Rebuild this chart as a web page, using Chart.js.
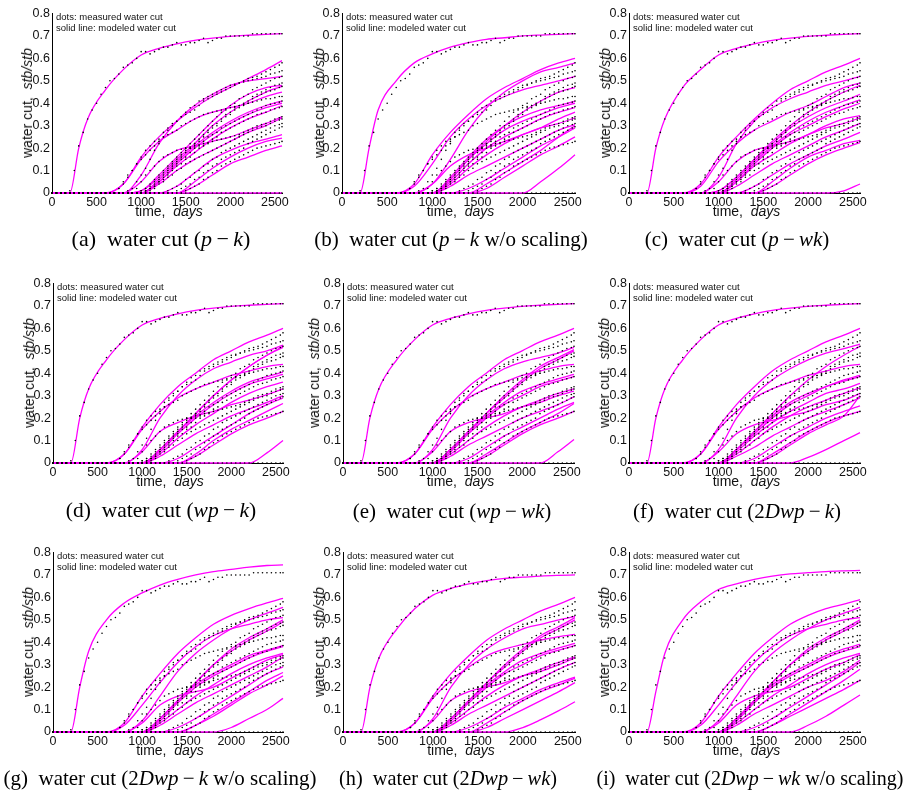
<!DOCTYPE html>
<html>
<head>
<meta charset="utf-8">
<script src="https://cdn.jsdelivr.net/npm/chart.js@4.4.0/dist/chart.umd.min.js"></script>
<style>
  body { margin: 0; background: #fff; width: 909px; height: 790px; position: relative; overflow: hidden;
         font-family: "Liberation Sans", Arial, sans-serif; color: #111; }
  canvas { position: absolute; }
  .ytitle { position: absolute; transform: translate(-50%, -50%) rotate(-90deg); white-space: nowrap; font-size: 14px; line-height: 1; }
  .xtitle { position: absolute; transform: translate(-50%, -50%); white-space: nowrap; font-size: 14px; line-height: 1; }
  .note { position: absolute; font-size: 9.5px; line-height: 11px; white-space: nowrap; }
  .caption { position: absolute; transform: translate(-50%, -50%); white-space: nowrap; line-height: 1;
             font-family: "Liberation Serif", "Times New Roman", serif; color: #000; }
</style>
</head>
<body>
<script>
// axis ticks
const X_TICKS = [0, 500, 1000, 1500, 2000, 2500];
const X_TICK_LABELS = ["0", "500", "1000", "1500", "2000", "2500"];
const Y_TICKS = [0, 0.1, 0.2, 0.3, 0.4, 0.5, 0.6, 0.7, 0.8];
const Y_TICK_LABELS = ["0", "0.1", "0.2", "0.3", "0.4", "0.5", "0.6", "0.7", "0.8"];

// measured water cut (dots), same in every panel; one row per 500 days
const OBS_DAYS = [
  0, 50, 100, 150, 200, 250, 300, 350, 400, 450,
  500, 550, 600, 650, 700, 750, 800, 850, 900, 950,
  1000, 1050, 1100, 1150, 1200, 1250, 1300, 1350, 1400, 1450,
  1500, 1550, 1600, 1650, 1700, 1750, 1800, 1850, 1900, 1950,
  2000, 2050, 2100, 2150, 2200, 2250, 2300, 2350, 2400, 2450,
  2500, 2550, 2580];
const OBS_01 = [
  0, 0, 0, 0, 0.01, 0.10, 0.21, 0.27, 0.33, 0.37,
  0.40, 0.44, 0.47, 0.50, 0.51, 0.53, 0.56, 0.57, 0.58, 0.60,
  0.63, 0.63, 0.62, 0.63, 0.64, 0.65, 0.65, 0.66, 0.67, 0.66,
  0.66, 0.67, 0.67, 0.68, 0.69, 0.67, 0.68, 0.69, 0.69, 0.70,
  0.70, 0.70, 0.70, 0.70, 0.70, 0.71, 0.71, 0.71, 0.71, 0.71,
  0.71, 0.71, 0.71];
const OBS_02 = [
  0, 0, 0, 0, 0, 0, 0, 0, 0, 0,
  0, 0, 0, 0, 0, 0.02, 0.04, 0.07, 0.10, 0.13,
  0.16, 0.19, 0.21, 0.23, 0.24, 0.27, 0.29, 0.31, 0.32, 0.34,
  0.35, 0.36, 0.37, 0.39, 0.41, 0.42, 0.43, 0.44, 0.45, 0.46,
  0.47, 0.48, 0.49, 0.50, 0.51, 0.515, 0.52, 0.53, 0.54, 0.55,
  0.56, 0.57, 0.58];
const OBS_03 = [
  0, 0, 0, 0, 0, 0, 0, 0, 0, 0,
  0, 0, 0, 0, 0, 0.02, 0.05, 0.08, 0.10, 0.13,
  0.15, 0.17, 0.19, 0.21, 0.23, 0.25, 0.26, 0.27, 0.28, 0.30,
  0.31, 0.32, 0.33, 0.34, 0.35, 0.355, 0.36, 0.365, 0.37, 0.375,
  0.38, 0.385, 0.39, 0.395, 0.40, 0.405, 0.41, 0.415, 0.42, 0.42,
  0.425, 0.43, 0.43];
const OBS_04 = [
  0, 0, 0, 0, 0, 0, 0, 0, 0, 0,
  0, 0, 0, 0, 0, 0, 0, 0.01, 0.02, 0.05,
  0.08, 0.11, 0.15, 0.19, 0.22, 0.25, 0.28, 0.30, 0.32, 0.34,
  0.36, 0.38, 0.39, 0.41, 0.42, 0.43, 0.44, 0.45, 0.46, 0.47,
  0.48, 0.485, 0.49, 0.495, 0.50, 0.505, 0.51, 0.515, 0.52, 0.53,
  0.535, 0.54, 0.545];
const OBS_05 = [
  0, 0, 0, 0, 0, 0, 0, 0, 0, 0,
  0, 0, 0, 0, 0, 0, 0, 0, 0, 0,
  0.01, 0.02, 0.04, 0.06, 0.08, 0.10, 0.12, 0.14, 0.16, 0.18,
  0.20, 0.22, 0.24, 0.26, 0.28, 0.30, 0.32, 0.34, 0.36, 0.37,
  0.39, 0.40, 0.42, 0.43, 0.44, 0.46, 0.47, 0.48, 0.49, 0.50,
  0.51, 0.515, 0.52];
const OBS_06 = [
  0, 0, 0, 0, 0, 0, 0, 0, 0, 0,
  0, 0, 0, 0, 0, 0, 0, 0, 0, 0,
  0.01, 0.02, 0.03, 0.05, 0.07, 0.09, 0.11, 0.13, 0.15, 0.17,
  0.19, 0.20, 0.22, 0.24, 0.26, 0.28, 0.30, 0.31, 0.33, 0.35,
  0.36, 0.38, 0.39, 0.40, 0.41, 0.43, 0.44, 0.45, 0.46, 0.47,
  0.48, 0.485, 0.49];
const OBS_07 = [
  0, 0, 0, 0, 0, 0, 0, 0, 0, 0,
  0, 0, 0, 0, 0, 0, 0, 0, 0, 0,
  0, 0.01, 0.02, 0.04, 0.06, 0.08, 0.10, 0.12, 0.14, 0.16,
  0.18, 0.20, 0.22, 0.23, 0.25, 0.27, 0.29, 0.30, 0.32, 0.34,
  0.35, 0.37, 0.38, 0.39, 0.40, 0.42, 0.43, 0.44, 0.45, 0.455,
  0.46, 0.47, 0.475];
const OBS_08 = [
  0, 0, 0, 0, 0, 0, 0, 0, 0, 0,
  0, 0, 0, 0, 0, 0, 0, 0, 0, 0,
  0, 0.01, 0.02, 0.03, 0.05, 0.07, 0.09, 0.11, 0.13, 0.15,
  0.16, 0.18, 0.20, 0.21, 0.23, 0.25, 0.26, 0.27, 0.29, 0.30,
  0.31, 0.32, 0.33, 0.34, 0.35, 0.36, 0.37, 0.38, 0.39, 0.395,
  0.40, 0.405, 0.41];
const OBS_09 = [
  0, 0, 0, 0, 0, 0, 0, 0, 0, 0,
  0, 0, 0, 0, 0, 0, 0, 0, 0, 0,
  0, 0.01, 0.02, 0.03, 0.05, 0.06, 0.08, 0.10, 0.12, 0.13,
  0.15, 0.16, 0.18, 0.20, 0.21, 0.22, 0.24, 0.25, 0.27, 0.28,
  0.29, 0.30, 0.31, 0.32, 0.33, 0.34, 0.35, 0.355, 0.36, 0.37,
  0.375, 0.38, 0.385];
const OBS_10 = [
  0, 0, 0, 0, 0, 0, 0, 0, 0, 0,
  0, 0, 0, 0, 0, 0, 0, 0, 0, 0.02,
  0.05, 0.08, 0.10, 0.12, 0.14, 0.16, 0.17, 0.18, 0.19, 0.195,
  0.20, 0.205, 0.21, 0.215, 0.22, 0.225, 0.23, 0.235, 0.24, 0.245,
  0.25, 0.255, 0.26, 0.27, 0.28, 0.29, 0.30, 0.305, 0.31, 0.32,
  0.33, 0.335, 0.34];
const OBS_11 = [
  0, 0, 0, 0, 0, 0, 0, 0, 0, 0,
  0, 0, 0, 0, 0, 0, 0, 0, 0, 0,
  0, 0, 0.01, 0.02, 0.04, 0.05, 0.07, 0.08, 0.10, 0.11,
  0.13, 0.14, 0.15, 0.16, 0.17, 0.18, 0.19, 0.20, 0.21, 0.22,
  0.23, 0.24, 0.25, 0.26, 0.27, 0.28, 0.29, 0.295, 0.30, 0.31,
  0.32, 0.325, 0.33];
const OBS_12 = [
  0, 0, 0, 0, 0, 0, 0, 0, 0, 0,
  0, 0, 0, 0, 0, 0, 0, 0, 0, 0,
  0, 0, 0, 0, 0, 0, 0.01, 0.02, 0.03, 0.04,
  0.06, 0.07, 0.09, 0.10, 0.12, 0.13, 0.15, 0.16, 0.18, 0.19,
  0.20, 0.21, 0.22, 0.23, 0.24, 0.25, 0.26, 0.27, 0.28, 0.29,
  0.30, 0.305, 0.31];
const OBS_13 = [
  0, 0, 0, 0, 0, 0, 0, 0, 0, 0,
  0, 0, 0, 0, 0, 0, 0, 0, 0, 0,
  0, 0, 0, 0, 0, 0, 0, 0, 0.01, 0.02,
  0.03, 0.04, 0.06, 0.07, 0.09, 0.10, 0.12, 0.13, 0.15, 0.16,
  0.17, 0.18, 0.19, 0.20, 0.22, 0.23, 0.24, 0.25, 0.26, 0.27,
  0.28, 0.29, 0.295];
const OBS_14 = [
  0, 0, 0, 0, 0, 0, 0, 0, 0, 0,
  0, 0, 0, 0, 0, 0, 0, 0, 0, 0,
  0, 0, 0, 0, 0, 0, 0, 0, 0, 0,
  0.01, 0.02, 0.03, 0.04, 0.06, 0.07, 0.09, 0.10, 0.12, 0.13,
  0.14, 0.15, 0.16, 0.17, 0.18, 0.19, 0.20, 0.205, 0.21, 0.215,
  0.22, 0.225, 0.23];
const OBS_15 = [
  0, 0, 0, 0, 0, 0, 0, 0, 0, 0,
  0, 0, 0, 0, 0, 0, 0, 0, 0, 0,
  0, 0, 0, 0, 0, 0, 0, 0, 0, 0,
  0, 0, 0, 0, 0, 0, 0, 0, 0, 0,
  0, 0, 0, 0, 0, 0, 0, 0, 0, 0,
  0, 0, 0];
const OBSERVED = [OBS_01, OBS_02, OBS_03, OBS_04, OBS_05, OBS_06, OBS_07, OBS_08, OBS_09, OBS_10, OBS_11, OBS_12, OBS_13, OBS_14, OBS_15];

// modeled water cut (lines), one row per well, per panel
const FIT_DAYS = [0, 200, 300, 400, 600, 800, 1000, 1200, 1400, 1600, 1800, 2000, 2200, 2400, 2580];

const FIT_A = [
  [0, 0, 0.20, 0.33, 0.46, 0.55, 0.615, 0.645, 0.665, 0.68, 0.69, 0.698, 0.703, 0.707, 0.71],
  [0, 0, 0, 0, 0, 0.04, 0.16, 0.25, 0.32, 0.38, 0.43, 0.47, 0.51, 0.55, 0.59],
  [0, 0, 0, 0, 0, 0.04, 0.15, 0.23, 0.28, 0.33, 0.36, 0.38, 0.40, 0.43, 0.45],
  [0, 0, 0, 0, 0, 0, 0.08, 0.22, 0.32, 0.39, 0.44, 0.48, 0.50, 0.51, 0.52],
  [0, 0, 0, 0, 0, 0, 0.01, 0.08, 0.16, 0.24, 0.32, 0.39, 0.44, 0.47, 0.48],
  [0, 0, 0, 0, 0, 0, 0.01, 0.07, 0.15, 0.22, 0.30, 0.36, 0.41, 0.45, 0.475],
  [0, 0, 0, 0, 0, 0, 0, 0.06, 0.14, 0.21, 0.27, 0.32, 0.36, 0.39, 0.41],
  [0, 0, 0, 0, 0, 0, 0, 0.05, 0.13, 0.20, 0.26, 0.31, 0.35, 0.38, 0.40],
  [0, 0, 0, 0, 0, 0, 0, 0.05, 0.12, 0.18, 0.24, 0.29, 0.33, 0.36, 0.39],
  [0, 0, 0, 0, 0, 0, 0.05, 0.14, 0.19, 0.21, 0.23, 0.25, 0.28, 0.31, 0.34],
  [0, 0, 0, 0, 0, 0, 0, 0.04, 0.10, 0.15, 0.19, 0.23, 0.27, 0.30, 0.335],
  [0, 0, 0, 0, 0, 0, 0, 0, 0.03, 0.09, 0.15, 0.19, 0.22, 0.24, 0.26],
  [0, 0, 0, 0, 0, 0, 0, 0, 0, 0.05, 0.11, 0.16, 0.20, 0.23, 0.245],
  [0, 0, 0, 0, 0, 0, 0, 0, 0, 0.03, 0.08, 0.13, 0.16, 0.19, 0.21],
  [0, 0, 0, 0, 0, 0, 0, 0, 0, 0, 0, 0, 0, 0, 0]
];
const FIT_B = [
  [0, 0, 0.20, 0.37, 0.50, 0.58, 0.62, 0.65, 0.67, 0.685, 0.692, 0.70, 0.704, 0.707, 0.71],
  [0, 0, 0, 0, 0, 0.04, 0.17, 0.27, 0.35, 0.42, 0.47, 0.51, 0.55, 0.58, 0.60],
  [0, 0, 0, 0, 0, 0.03, 0.13, 0.25, 0.33, 0.39, 0.43, 0.46, 0.48, 0.50, 0.52],
  [0, 0, 0, 0, 0, 0, 0.04, 0.15, 0.28, 0.38, 0.45, 0.50, 0.54, 0.56, 0.58],
  [0, 0, 0, 0, 0, 0, 0, 0.06, 0.15, 0.23, 0.30, 0.36, 0.41, 0.45, 0.47],
  [0, 0, 0, 0, 0, 0, 0, 0.07, 0.16, 0.24, 0.30, 0.34, 0.37, 0.39, 0.41],
  [0, 0, 0, 0, 0, 0, 0, 0.06, 0.15, 0.22, 0.28, 0.32, 0.35, 0.38, 0.40],
  [0, 0, 0, 0, 0, 0, 0, 0.05, 0.13, 0.20, 0.25, 0.29, 0.33, 0.36, 0.38],
  [0, 0, 0, 0, 0, 0, 0, 0.04, 0.11, 0.17, 0.22, 0.26, 0.29, 0.33, 0.36],
  [0, 0, 0, 0, 0, 0, 0.04, 0.12, 0.17, 0.20, 0.23, 0.26, 0.29, 0.31, 0.335],
  [0, 0, 0, 0, 0, 0, 0, 0.03, 0.08, 0.12, 0.16, 0.20, 0.24, 0.28, 0.305],
  [0, 0, 0, 0, 0, 0, 0, 0, 0.02, 0.06, 0.11, 0.16, 0.21, 0.25, 0.29],
  [0, 0, 0, 0, 0, 0, 0, 0, 0, 0.02, 0.07, 0.12, 0.17, 0.21, 0.25],
  [0, 0, 0, 0, 0, 0, 0, 0, 0, 0.04, 0.09, 0.14, 0.19, 0.25, 0.30],
  [0, 0, 0, 0, 0, 0, 0, 0, 0, 0, 0, 0, 0.05, 0.11, 0.17]
];
const FIT_C = [
  [0, 0, 0.20, 0.33, 0.47, 0.55, 0.615, 0.645, 0.665, 0.68, 0.69, 0.698, 0.703, 0.707, 0.71],
  [0, 0, 0, 0, 0, 0.04, 0.16, 0.25, 0.33, 0.40, 0.46, 0.50, 0.54, 0.57, 0.60],
  [0, 0, 0, 0, 0, 0.03, 0.14, 0.22, 0.28, 0.32, 0.36, 0.39, 0.43, 0.47, 0.49],
  [0, 0, 0, 0, 0, 0, 0.07, 0.22, 0.32, 0.38, 0.42, 0.45, 0.48, 0.50, 0.52],
  [0, 0, 0, 0, 0, 0, 0.01, 0.07, 0.15, 0.23, 0.30, 0.36, 0.41, 0.45, 0.48],
  [0, 0, 0, 0, 0, 0, 0.01, 0.07, 0.15, 0.22, 0.29, 0.34, 0.38, 0.41, 0.44],
  [0, 0, 0, 0, 0, 0, 0, 0.06, 0.14, 0.21, 0.27, 0.32, 0.36, 0.39, 0.415],
  [0, 0, 0, 0, 0, 0, 0, 0.05, 0.13, 0.20, 0.26, 0.30, 0.34, 0.375, 0.40],
  [0, 0, 0, 0, 0, 0, 0, 0.05, 0.12, 0.17, 0.22, 0.26, 0.30, 0.33, 0.345],
  [0, 0, 0, 0, 0, 0, 0.05, 0.14, 0.19, 0.21, 0.23, 0.26, 0.29, 0.31, 0.335],
  [0, 0, 0, 0, 0, 0, 0, 0.03, 0.08, 0.13, 0.17, 0.21, 0.25, 0.28, 0.31],
  [0, 0, 0, 0, 0, 0, 0, 0, 0.03, 0.08, 0.13, 0.17, 0.21, 0.24, 0.27],
  [0, 0, 0, 0, 0, 0, 0, 0, 0, 0.05, 0.11, 0.16, 0.19, 0.22, 0.235],
  [0, 0, 0, 0, 0, 0, 0, 0, 0, 0.03, 0.08, 0.13, 0.17, 0.20, 0.225],
  [0, 0, 0, 0, 0, 0, 0, 0, 0, 0, 0, 0, 0, 0.01, 0.04]
];
const FIT_D = [
  [0, 0, 0.20, 0.33, 0.46, 0.55, 0.615, 0.645, 0.665, 0.68, 0.69, 0.698, 0.703, 0.707, 0.71],
  [0, 0, 0, 0, 0, 0.04, 0.16, 0.26, 0.34, 0.40, 0.46, 0.50, 0.54, 0.57, 0.60],
  [0, 0, 0, 0, 0, 0.04, 0.15, 0.23, 0.29, 0.33, 0.36, 0.39, 0.41, 0.43, 0.44],
  [0, 0, 0, 0, 0, 0, 0.06, 0.20, 0.30, 0.37, 0.42, 0.45, 0.48, 0.50, 0.525],
  [0, 0, 0, 0, 0, 0, 0, 0.06, 0.14, 0.22, 0.30, 0.37, 0.43, 0.48, 0.52],
  [0, 0, 0, 0, 0, 0, 0, 0.06, 0.14, 0.22, 0.30, 0.37, 0.43, 0.48, 0.515],
  [0, 0, 0, 0, 0, 0, 0, 0.06, 0.14, 0.21, 0.27, 0.32, 0.36, 0.385, 0.405],
  [0, 0, 0, 0, 0, 0, 0, 0.05, 0.13, 0.20, 0.26, 0.31, 0.35, 0.375, 0.395],
  [0, 0, 0, 0, 0, 0, 0, 0.04, 0.11, 0.17, 0.22, 0.27, 0.31, 0.34, 0.36],
  [0, 0, 0, 0, 0, 0, 0.05, 0.14, 0.18, 0.21, 0.23, 0.26, 0.28, 0.305, 0.33],
  [0, 0, 0, 0, 0, 0, 0, 0.03, 0.08, 0.13, 0.17, 0.21, 0.24, 0.27, 0.30],
  [0, 0, 0, 0, 0, 0, 0, 0, 0.02, 0.07, 0.12, 0.17, 0.22, 0.26, 0.29],
  [0, 0, 0, 0, 0, 0, 0, 0, 0, 0.04, 0.10, 0.15, 0.19, 0.23, 0.265],
  [0, 0, 0, 0, 0, 0, 0, 0, 0, 0.03, 0.08, 0.13, 0.17, 0.20, 0.23],
  [0, 0, 0, 0, 0, 0, 0, 0, 0, 0, 0, 0, 0, 0.045, 0.10]
];
const FIT_E = [
  [0, 0, 0.20, 0.33, 0.46, 0.55, 0.615, 0.645, 0.665, 0.68, 0.69, 0.698, 0.703, 0.707, 0.71],
  [0, 0, 0, 0, 0, 0.04, 0.16, 0.26, 0.34, 0.40, 0.46, 0.50, 0.54, 0.57, 0.60],
  [0, 0, 0, 0, 0, 0.04, 0.15, 0.23, 0.29, 0.33, 0.36, 0.39, 0.41, 0.43, 0.44],
  [0, 0, 0, 0, 0, 0, 0.06, 0.20, 0.30, 0.37, 0.42, 0.45, 0.47, 0.49, 0.515],
  [0, 0, 0, 0, 0, 0, 0, 0.06, 0.14, 0.22, 0.30, 0.37, 0.43, 0.47, 0.505],
  [0, 0, 0, 0, 0, 0, 0, 0.06, 0.14, 0.22, 0.29, 0.36, 0.42, 0.46, 0.50],
  [0, 0, 0, 0, 0, 0, 0, 0.06, 0.14, 0.21, 0.27, 0.32, 0.35, 0.375, 0.395],
  [0, 0, 0, 0, 0, 0, 0, 0.05, 0.13, 0.20, 0.26, 0.30, 0.34, 0.365, 0.385],
  [0, 0, 0, 0, 0, 0, 0, 0.04, 0.10, 0.16, 0.21, 0.25, 0.28, 0.31, 0.33],
  [0, 0, 0, 0, 0, 0, 0.05, 0.14, 0.18, 0.20, 0.22, 0.25, 0.27, 0.30, 0.32],
  [0, 0, 0, 0, 0, 0, 0, 0.03, 0.08, 0.12, 0.16, 0.20, 0.23, 0.26, 0.295],
  [0, 0, 0, 0, 0, 0, 0, 0, 0.02, 0.07, 0.12, 0.16, 0.20, 0.24, 0.27],
  [0, 0, 0, 0, 0, 0, 0, 0, 0, 0.04, 0.09, 0.14, 0.18, 0.22, 0.265],
  [0, 0, 0, 0, 0, 0, 0, 0, 0, 0.03, 0.08, 0.13, 0.17, 0.20, 0.23],
  [0, 0, 0, 0, 0, 0, 0, 0, 0, 0, 0, 0, 0, 0.05, 0.105]
];
const FIT_F = [
  [0, 0, 0.20, 0.33, 0.46, 0.55, 0.615, 0.645, 0.665, 0.68, 0.69, 0.698, 0.703, 0.707, 0.71],
  [0, 0, 0, 0, 0, 0.04, 0.16, 0.26, 0.34, 0.41, 0.46, 0.50, 0.54, 0.57, 0.60],
  [0, 0, 0, 0, 0, 0.04, 0.15, 0.23, 0.29, 0.33, 0.36, 0.39, 0.41, 0.43, 0.44],
  [0, 0, 0, 0, 0, 0, 0.06, 0.20, 0.30, 0.37, 0.42, 0.46, 0.49, 0.51, 0.53],
  [0, 0, 0, 0, 0, 0, 0, 0.06, 0.14, 0.22, 0.30, 0.37, 0.43, 0.48, 0.52],
  [0, 0, 0, 0, 0, 0, 0, 0.06, 0.14, 0.21, 0.27, 0.31, 0.34, 0.37, 0.39],
  [0, 0, 0, 0, 0, 0, 0, 0.06, 0.13, 0.20, 0.26, 0.30, 0.34, 0.365, 0.385],
  [0, 0, 0, 0, 0, 0, 0, 0.05, 0.12, 0.18, 0.23, 0.27, 0.31, 0.33, 0.355],
  [0, 0, 0, 0, 0, 0, 0, 0.04, 0.10, 0.16, 0.21, 0.25, 0.28, 0.31, 0.335],
  [0, 0, 0, 0, 0, 0, 0.05, 0.13, 0.17, 0.19, 0.21, 0.23, 0.26, 0.28, 0.31],
  [0, 0, 0, 0, 0, 0, 0, 0.03, 0.07, 0.12, 0.16, 0.20, 0.23, 0.26, 0.29],
  [0, 0, 0, 0, 0, 0, 0, 0, 0.02, 0.07, 0.12, 0.16, 0.20, 0.23, 0.255],
  [0, 0, 0, 0, 0, 0, 0, 0, 0, 0.04, 0.09, 0.14, 0.18, 0.21, 0.23],
  [0, 0, 0, 0, 0, 0, 0, 0, 0, 0.03, 0.08, 0.13, 0.17, 0.21, 0.30],
  [0, 0, 0, 0, 0, 0, 0, 0, 0, 0, 0, 0.025, 0.06, 0.10, 0.135]
];
const FIT_G = [
  [0, 0, 0.20, 0.36, 0.50, 0.575, 0.62, 0.655, 0.68, 0.70, 0.715, 0.725, 0.735, 0.742, 0.745],
  [0, 0, 0, 0, 0, 0.04, 0.16, 0.26, 0.35, 0.42, 0.48, 0.52, 0.55, 0.575, 0.595],
  [0, 0, 0, 0, 0, 0.03, 0.12, 0.22, 0.31, 0.38, 0.43, 0.46, 0.48, 0.50, 0.51],
  [0, 0, 0, 0, 0, 0, 0.05, 0.16, 0.27, 0.35, 0.41, 0.46, 0.50, 0.53, 0.555],
  [0, 0, 0, 0, 0, 0, 0, 0.06, 0.14, 0.22, 0.30, 0.37, 0.42, 0.46, 0.50],
  [0, 0, 0, 0, 0, 0, 0, 0.06, 0.14, 0.22, 0.30, 0.36, 0.41, 0.45, 0.49],
  [0, 0, 0, 0, 0, 0, 0, 0.06, 0.14, 0.21, 0.26, 0.30, 0.34, 0.365, 0.385],
  [0, 0, 0, 0, 0, 0, 0, 0.05, 0.13, 0.20, 0.25, 0.29, 0.33, 0.36, 0.38],
  [0, 0, 0, 0, 0, 0, 0, 0.04, 0.10, 0.16, 0.21, 0.26, 0.30, 0.33, 0.35],
  [0, 0, 0, 0, 0, 0, 0.04, 0.12, 0.16, 0.18, 0.20, 0.24, 0.28, 0.32, 0.345],
  [0, 0, 0, 0, 0, 0, 0, 0.03, 0.08, 0.13, 0.17, 0.21, 0.25, 0.29, 0.335],
  [0, 0, 0, 0, 0, 0, 0, 0, 0.02, 0.06, 0.11, 0.16, 0.21, 0.26, 0.29],
  [0, 0, 0, 0, 0, 0, 0, 0, 0, 0.03, 0.08, 0.13, 0.18, 0.23, 0.265],
  [0, 0, 0, 0, 0, 0, 0, 0, 0, 0.03, 0.07, 0.12, 0.17, 0.21, 0.25],
  [0, 0, 0, 0, 0, 0, 0, 0, 0, 0, 0, 0.02, 0.06, 0.10, 0.15]
];
const FIT_H = [
  [0, 0, 0.20, 0.33, 0.46, 0.55, 0.61, 0.64, 0.66, 0.675, 0.685, 0.69, 0.695, 0.698, 0.70],
  [0, 0, 0, 0, 0, 0.04, 0.16, 0.26, 0.34, 0.41, 0.46, 0.50, 0.54, 0.57, 0.60],
  [0, 0, 0, 0, 0, 0.04, 0.15, 0.23, 0.29, 0.34, 0.37, 0.39, 0.41, 0.425, 0.435],
  [0, 0, 0, 0, 0, 0, 0.06, 0.20, 0.30, 0.37, 0.42, 0.46, 0.48, 0.50, 0.515],
  [0, 0, 0, 0, 0, 0, 0, 0.06, 0.14, 0.22, 0.30, 0.37, 0.43, 0.47, 0.51],
  [0, 0, 0, 0, 0, 0, 0, 0.06, 0.14, 0.22, 0.29, 0.36, 0.42, 0.46, 0.50],
  [0, 0, 0, 0, 0, 0, 0, 0.06, 0.14, 0.21, 0.27, 0.32, 0.35, 0.375, 0.395],
  [0, 0, 0, 0, 0, 0, 0, 0.05, 0.13, 0.20, 0.26, 0.30, 0.34, 0.365, 0.385],
  [0, 0, 0, 0, 0, 0, 0, 0.04, 0.10, 0.16, 0.21, 0.25, 0.28, 0.31, 0.335],
  [0, 0, 0, 0, 0, 0, 0.05, 0.14, 0.18, 0.20, 0.22, 0.25, 0.27, 0.30, 0.33],
  [0, 0, 0, 0, 0, 0, 0, 0.03, 0.08, 0.12, 0.16, 0.20, 0.24, 0.28, 0.31],
  [0, 0, 0, 0, 0, 0, 0, 0, 0.02, 0.06, 0.11, 0.15, 0.19, 0.22, 0.245],
  [0, 0, 0, 0, 0, 0, 0, 0, 0, 0.04, 0.09, 0.14, 0.18, 0.21, 0.24],
  [0, 0, 0, 0, 0, 0, 0, 0, 0, 0.02, 0.06, 0.10, 0.14, 0.18, 0.22],
  [0, 0, 0, 0, 0, 0, 0, 0, 0, 0, 0, 0.02, 0.055, 0.095, 0.135]
];
const FIT_I = [
  [0, 0, 0.18, 0.35, 0.50, 0.58, 0.635, 0.66, 0.68, 0.695, 0.705, 0.71, 0.715, 0.718, 0.72],
  [0, 0, 0, 0, 0, 0.04, 0.16, 0.26, 0.35, 0.42, 0.48, 0.52, 0.55, 0.57, 0.59],
  [0, 0, 0, 0, 0, 0.03, 0.12, 0.22, 0.31, 0.38, 0.43, 0.46, 0.48, 0.50, 0.51],
  [0, 0, 0, 0, 0, 0, 0.05, 0.16, 0.27, 0.35, 0.41, 0.46, 0.50, 0.53, 0.555],
  [0, 0, 0, 0, 0, 0, 0, 0.06, 0.14, 0.22, 0.30, 0.37, 0.42, 0.46, 0.50],
  [0, 0, 0, 0, 0, 0, 0, 0.06, 0.14, 0.22, 0.30, 0.36, 0.41, 0.45, 0.49],
  [0, 0, 0, 0, 0, 0, 0, 0.06, 0.14, 0.21, 0.26, 0.30, 0.34, 0.37, 0.39],
  [0, 0, 0, 0, 0, 0, 0, 0.05, 0.13, 0.20, 0.25, 0.29, 0.33, 0.36, 0.38],
  [0, 0, 0, 0, 0, 0, 0, 0.04, 0.10, 0.16, 0.21, 0.26, 0.30, 0.33, 0.35],
  [0, 0, 0, 0, 0, 0, 0.04, 0.12, 0.16, 0.18, 0.20, 0.24, 0.28, 0.31, 0.345],
  [0, 0, 0, 0, 0, 0, 0, 0.03, 0.08, 0.12, 0.16, 0.20, 0.23, 0.27, 0.32],
  [0, 0, 0, 0, 0, 0, 0, 0, 0.02, 0.06, 0.11, 0.16, 0.21, 0.26, 0.31],
  [0, 0, 0, 0, 0, 0, 0, 0, 0, 0.03, 0.08, 0.13, 0.18, 0.23, 0.28],
  [0, 0, 0, 0, 0, 0, 0, 0, 0, 0.03, 0.07, 0.11, 0.15, 0.19, 0.23],
  [0, 0, 0, 0, 0, 0, 0, 0, 0, 0, 0, 0.03, 0.07, 0.12, 0.165]
];

const CAPTIONS = [
  "(a)&nbsp; water cut (<i>p</i>&thinsp;&minus;&thinsp;<i>k</i>)",
  "(b)&nbsp; water cut (<i>p</i>&thinsp;&minus;&thinsp;<i>k</i> w/o scaling)",
  "(c)&nbsp; water cut (<i>p</i>&thinsp;&minus;&thinsp;<i>wk</i>)",
  "(d)&nbsp; water cut (<i>wp</i>&thinsp;&minus;&thinsp;<i>k</i>)",
  "(e)&nbsp; water cut (<i>wp</i>&thinsp;&minus;&thinsp;<i>wk</i>)",
  "(f)&nbsp; water cut (2<i>Dwp</i>&thinsp;&minus;&thinsp;<i>k</i>)",
  "(g)&nbsp; water cut (2<i>Dwp</i>&thinsp;&minus;&thinsp;<i>k</i> w/o scaling)",
  "(h)&nbsp; water cut (2<i>Dwp</i>&thinsp;&minus;&thinsp;<i>wk</i>)",
  "(i)&nbsp; water cut (2<i>Dwp</i>&thinsp;&minus;&thinsp;<i>wk</i> w/o scaling)"
];
const FITS = [FIT_A, FIT_B, FIT_C, FIT_D, FIT_E, FIT_F, FIT_G, FIT_H, FIT_I];

// page layout: plot box [left, top, right, bottom], y-title x, caption centre and size
const LAYOUT = [
  { box: [52, 12, 282, 193],   yt: 27,  cap: [161, 239, 22] },
  { box: [342, 12, 575, 193],  yt: 319, cap: [451, 239, 21] },
  { box: [629, 12, 860, 193],  yt: 605, cap: [737, 239, 21] },
  { box: [53, 282, 283, 463],  yt: 29,  cap: [161, 511, 21.5] },
  { box: [343, 282, 574, 463], yt: 314, cap: [452, 511, 21] },
  { box: [629, 282, 860, 463], yt: 604, cap: [737, 511, 21] },
  { box: [53, 551, 283, 732],  yt: 28,  cap: [160, 778, 21] },
  { box: [343, 551, 575, 732], yt: 319, cap: [448, 778, 20.3] },
  { box: [629, 551, 860, 732], yt: 604, cap: [750, 778, 20] }
];

const PAD_L = 50, PAD_T = 8, PAD_R = 10, PAD_B = 20;
const tickFont = { family: "'Liberation Sans', Arial, sans-serif", size: 12.5 };

function addText(cls, html, x, y) {
  const el = document.createElement("div");
  el.className = cls;
  el.innerHTML = html;
  el.style.left = x + "px";
  el.style.top = y + "px";
  document.body.appendChild(el);
  return el;
}

function makePanel(i) {
  const [l, t, r, b] = LAYOUT[i].box;
  const cv = document.createElement("canvas");
  cv.width = r - l + PAD_L + PAD_R;
  cv.height = b - t + PAD_T + PAD_B;
  cv.style.left = (l - PAD_L) + "px";
  cv.style.top = (t - PAD_T) + "px";
  cv.style.width = cv.width + "px";
  cv.style.height = cv.height + "px";
  document.body.appendChild(cv);

  const datasets = [];
  OBSERVED.forEach(function(obs) {
    datasets.push({
      data: OBS_DAYS.map(function(d, k) { return { x: d, y: obs[k] }; }),
      showLine: false,
      pointRadius: 0.8,
      pointBorderWidth: 0,
      pointBackgroundColor: "#000",
      clip: 4,
      order: 0
    });
  });
  FITS[i].forEach(function(fit) {
    datasets.push({
      data: FIT_DAYS.map(function(d, k) { return { x: d, y: fit[k] }; }),
      borderColor: "#ff00ff",
      borderWidth: 1.3,
      pointRadius: 0,
      cubicInterpolationMode: "monotone",
      fill: false,
      clip: 4,
      order: 1
    });
  });

  new Chart(cv, {
    type: "line",
    data: { datasets: datasets },
    options: {
      responsive: false,
      animation: false,
      devicePixelRatio: 1,
      layout: { padding: { left: 0, top: PAD_T, right: PAD_R, bottom: 0 } },
      plugins: { legend: { display: false }, tooltip: { enabled: false } },
      scales: {
        x: {
          type: "linear", min: 0, max: 2580,
          grid: { display: false, drawTicks: false },
          border: { display: true, color: "#000", width: 1 },
          afterBuildTicks: function(s) { s.ticks = X_TICKS.map(function(v) { return { value: v }; }); },
          afterFit: function(s) { s.height = PAD_B; },
          ticks: {
            autoSkip: false, maxRotation: 0, padding: 2, color: "#111", font: tickFont,
            callback: function(v, k) { return X_TICK_LABELS[k]; }
          }
        },
        y: {
          type: "linear", min: 0, max: 0.8,
          grid: { display: false, drawTicks: false },
          border: { display: true, color: "#000", width: 1 },
          afterBuildTicks: function(s) { s.ticks = Y_TICKS.map(function(v) { return { value: v }; }); },
          afterFit: function(s) { s.width = PAD_L; },
          ticks: {
            autoSkip: false, padding: 2, color: "#111", font: tickFont,
            callback: function(v, k) { return Y_TICK_LABELS[k]; }
          }
        }
      }
    }
  });

  addText("ytitle", "water cut,&nbsp; <i>stb/stb</i>", LAYOUT[i].yt, (t + b) / 2);
  addText("xtitle", "time,&nbsp; <i>days</i>", (l + r) / 2 + 2, b + 18);
  addText("note", "dots: measured water cut<br>solid line: modeled water cut", l + 4, t - 1);
  const cap = addText("caption", CAPTIONS[i], LAYOUT[i].cap[0], LAYOUT[i].cap[1]);
  cap.style.fontSize = LAYOUT[i].cap[2] + "px";
}

for (let i = 0; i < 9; i++) makePanel(i);
</script>
</body>
</html>
